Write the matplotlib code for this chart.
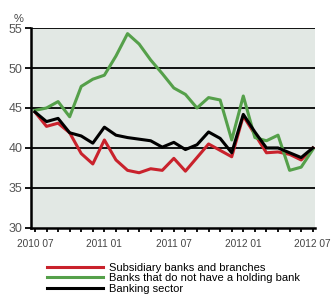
import numpy as np
import matplotlib.pyplot as plt

plt.rcParams['font.family'] = ['Liberation Sans', 'DejaVu Sans']

months = np.arange(25)
tick_pos = [0, 6, 12, 18, 24]
tick_labels = ["2010 07", "2011 01", "2011 07", "2012 01", "2012 07"]

subsidiary = [44.5, 42.7, 43.1, 41.9, 39.3, 38.0, 41.0, 38.5, 37.2, 36.9, 37.4, 37.2,
              38.7, 37.1, 38.8, 40.5, 39.7, 38.9, 44.0, 41.7, 39.4, 39.5, 39.2, 38.5, 40.0]
no_holding = [44.7, 45.0, 45.8, 43.9, 47.7, 48.6, 49.1, 51.5, 54.3, 53.0, 51.0, 49.3,
              47.5, 46.7, 45.0, 46.3, 46.0, 41.0, 46.5, 41.3, 40.9, 41.6, 37.2, 37.6, 39.8]
sector = [44.5, 43.3, 43.7, 41.9, 41.5, 40.6, 42.6, 41.6, 41.3, 41.1, 40.9, 40.1,
          40.7, 39.8, 40.4, 42.0, 41.2, 39.4, 44.2, 42.0, 40.0, 40.0, 39.4, 38.8, 40.0]

fig = plt.figure(figsize=(3.32, 3.08), dpi=100)
ax = fig.add_axes([0.093, 0.26, 0.856, 0.649])
ax.set_facecolor("#e2e8e4")

for y in [35, 40, 45, 50, 55]:
    ax.axhline(y, color="black", lw=1.3, zorder=1)

l1, = ax.plot(months, subsidiary, color="#c9222c", lw=2.2, zorder=3)
l2, = ax.plot(months, no_holding, color="#55a04a", lw=2.2, zorder=3)
l3, = ax.plot(months, sector, color="black", lw=2.2, zorder=4)

ax.set_xlim(-0.35, 24.2)
ax.set_ylim(30, 55)
ax.set_yticks([30, 35, 40, 45, 50, 55])
ax.set_xticks(tick_pos)
ax.set_xticklabels(tick_labels)
ax.set_xticks(months, minor=True)
for s in ["top", "right"]:
    ax.spines[s].set_visible(False)
for s in ["left", "bottom"]:
    ax.spines[s].set_linewidth(1.8)
    ax.spines[s].set_zorder(5)
ax.tick_params(axis="y", length=4, width=1.3, labelsize=9, labelcolor="#555555", pad=2)
ax.tick_params(axis="x", which="both", length=3, width=1.3, labelsize=7.3,
               labelcolor="#444444", pad=5)
ax.text(-0.045, 1.02, "%", transform=ax.transAxes, fontsize=8, color="#444444",
        ha="center", va="bottom")

fig.legend([l1, l2, l3],
           ["Subsidiary banks and branches", "Banks that do not have a holding bank",
            "Banking sector"],
           loc="upper left", bbox_to_anchor=(0.125, 0.165), frameon=False,
           fontsize=8, handlelength=5.0, handletextpad=0.6, labelspacing=0.05,
           borderpad=0)

fig.savefig("out.png", dpi=100)
